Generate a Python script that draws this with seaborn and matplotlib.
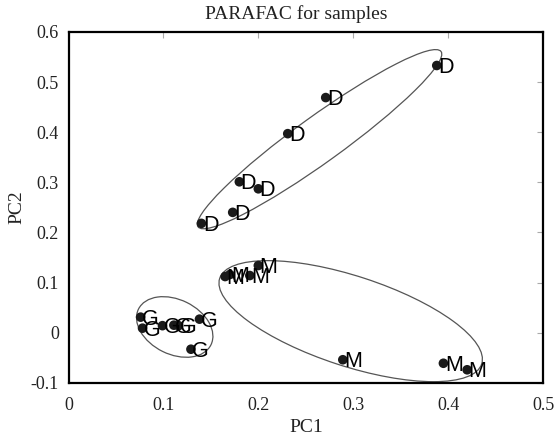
import numpy as np
import pandas as pd
import seaborn as sns
import matplotlib
matplotlib.use("Agg")
import matplotlib.pyplot as plt
from matplotlib.patches import Ellipse
from matplotlib.transforms import Affine2D, ScaledTranslation

# ---- data ----
pc1_D = [0.388, 0.271, 0.231, 0.180, 0.200, 0.173, 0.140]
pc2_D = [0.533, 0.469, 0.397, 0.301, 0.287, 0.240, 0.218]
pc1_M = [0.165, 0.170, 0.191, 0.200, 0.289, 0.395, 0.420]
pc2_M = [0.112, 0.116, 0.114, 0.134, -0.054, -0.061, -0.074]
pc1_G = [0.076, 0.078, 0.099, 0.111, 0.116, 0.138, 0.129]
pc2_G = [0.031, 0.009, 0.014, 0.015, 0.014, 0.027, -0.033]
groups = ["D", "M", "G"]

x_ticks = [0, 0.1, 0.2, 0.3, 0.4, 0.5]
x_ticklabels = ["0", "0.1", "0.2", "0.3", "0.4", "0.5"]
y_ticks = [-0.1, 0, 0.1, 0.2, 0.3, 0.4, 0.5, 0.6]
y_ticklabels = ["-0.1", "0", "0.1", "0.2", "0.3", "0.4", "0.5", "0.6"]

# group ellipses: center (data), semi-axes (pixels), angle (deg)
ell_center_x = [0.2645, 0.2973, 0.1119]
ell_center_y = [0.386, 0.023, 0.0114]
ell_semi_a = [149.8, 137.8, 40.4]
ell_semi_b = [23.0, 45.0, 27.3]
ell_angle = [35.8, -18.1, -26.2]

df = pd.DataFrame({
    "PC1": pc1_D + pc1_M + pc1_G,
    "PC2": pc2_D + pc2_M + pc2_G,
    "group": ["D"] * len(pc1_D) + ["M"] * len(pc1_M) + ["G"] * len(pc1_G),
})

sns.set_theme(style="white")
plt.rcParams["font.family"] = ["Liberation Serif", "DejaVu Serif"]

fig = plt.figure(figsize=(5.57, 4.37), dpi=100)
ax = fig.add_axes([0.123, 0.124, 0.852, 0.803])

sns.scatterplot(data=df, x="PC1", y="PC2", color="#1a1a1a", s=48,
                edgecolor="none", linewidth=0, legend=False, ax=ax, zorder=3)

for xv, yv, g in zip(df["PC1"], df["PC2"], df["group"]):
    ax.annotate(g, (xv, yv), xytext=(1.0, -1.5), textcoords="offset points",
                ha="left", va="center", fontsize=15.5,
                family=["Liberation Sans", "DejaVu Sans"], color="black", zorder=4)

ax.set_xlim(0, 0.5)
ax.set_ylim(-0.1, 0.6)

for cx, cy, a, b, ang in zip(ell_center_x, ell_center_y, ell_semi_a, ell_semi_b, ell_angle):
    tr = Affine2D().scale(1 / 100.0) + fig.dpi_scale_trans + ScaledTranslation(cx, cy, ax.transData) \
        - ScaledTranslation(0, 0, fig.dpi_scale_trans)
    e = Ellipse((0, 0), 2 * a, 2 * b, angle=ang, fill=False,
                edgecolor="#555555", linewidth=0.9, transform=tr, zorder=2)
    ax.add_patch(e)

ax.set_xticks(x_ticks)
ax.set_xticklabels(x_ticklabels)
ax.set_yticks(y_ticks)
ax.set_yticklabels(y_ticklabels)
ax.tick_params(axis="both", direction="in", length=4, width=0.8, color="#aaaaaa",
               labelsize=13, labelcolor="#222222", top=True, right=True)
ax.tick_params(axis="x", pad=10)
ax.tick_params(axis="y", pad=7)

for sp in ax.spines.values():
    sp.set_color("black")
    sp.set_linewidth(1.6)

ax.set_xlabel("PC1", fontsize=14, labelpad=3.5, color="#222222")
ax.set_ylabel("PC2", fontsize=14, labelpad=4, color="#222222")
ax.set_title("PARAFAC for samples", fontsize=14, pad=9, color="#222222", x=0.479)

fig.savefig("out.png", dpi=100)
